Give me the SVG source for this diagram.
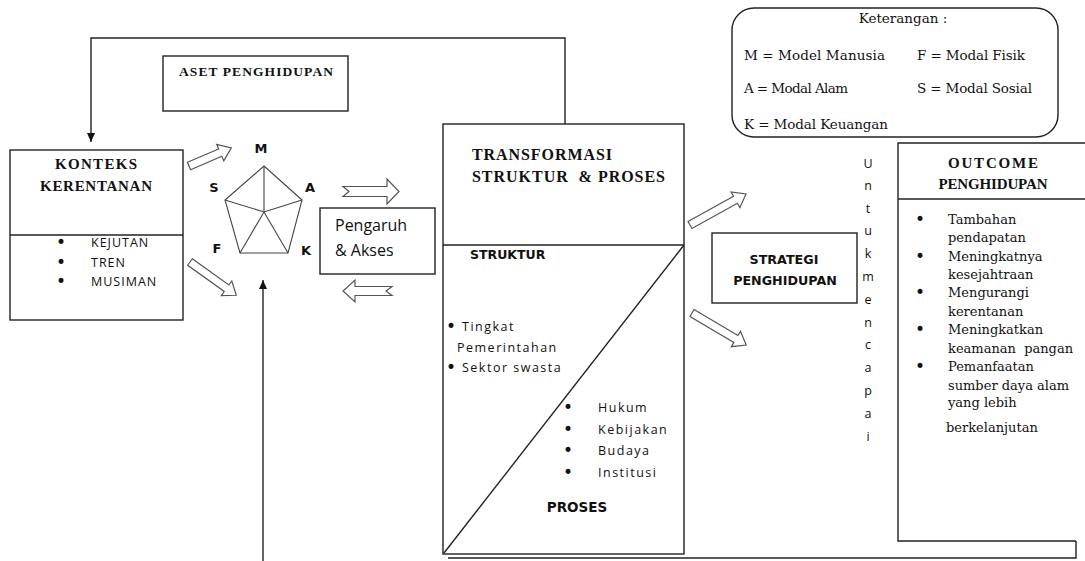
<svg xmlns="http://www.w3.org/2000/svg" width="1085" height="561" viewBox="0 0 1085 561">
<style>
.box{fill:#fff;stroke:#222;stroke-width:1.4}
.ln{fill:none;stroke:#222;stroke-width:1.4}
.pent{fill:none;stroke:#444;stroke-width:1.1}
.harr{fill:#fff;stroke:#555;stroke-width:1.2;stroke-linejoin:miter}
.serifb{font-family:"Liberation Serif","Times New Roman",serif;font-weight:bold;fill:#111}
.serif{font-family:"DejaVu Serif",serif;fill:#111}
.sans{font-family:"Open Sans","DejaVu Sans",sans-serif;fill:#111}
.sansb{font-family:"DejaVu Sans","Open Sans",sans-serif;font-weight:bold;fill:#111}
.bul{font-family:"DejaVu Sans",sans-serif;font-size:17px;fill:#111;letter-spacing:0}
</style>
<defs>
<marker id="ah" markerWidth="10" markerHeight="10" refX="9" refY="5" orient="auto" markerUnits="userSpaceOnUse">
<path d="M0,1 L9,5 L0,9 Z" fill="#111"/>
</marker>
</defs>
<rect width="1085" height="561" fill="#fff"/>

<g id="connectors">
<polyline class="ln" points="565,124 565,38 91,38 91,142" marker-end="url(#ah)"/>
<polyline class="ln" points="263,561 263,280" marker-end="url(#ah)"/>
<polyline class="ln" points="1076,541 1076,558 448,558"/>
<g transform="translate(189,166) rotate(-23.2)"><polygon class="harr" points="0,-4 34,-4 34,-9 46,0 34,9 34,4 0,4"/></g>
<g transform="translate(190,262) rotate(35.7)"><polygon class="harr" points="0,-4 45,-4 45,-9 57,0 45,9 45,4 0,4"/></g>
<polygon class="harr" points="343,186.5 387,186.5 387,179 399,191.5 387,204 387,196.5 343,196.5 349,191.5"/>
<polygon class="harr" points="392,286.5 355,286.5 355,280 343,291 355,302 355,295.5 392,295.5 386,291"/>
<g transform="translate(690,225) rotate(-29)"><polygon class="harr" points="0,-4 52,-4 52,-9 64,0 52,9 52,4 0,4"/></g>
<g transform="translate(692,313) rotate(30.6)"><polygon class="harr" points="0,-4 51,-4 51,-9 63,0 51,9 51,4 0,4"/></g>
</g>

<g id="aset">
<rect class="box" x="163" y="56" width="185" height="55"/>
<text class="serifb" x="256" y="76" font-size="13.5" text-anchor="middle" textLength="154">ASET PENGHIDUPAN</text>
</g>

<g id="konteks">
<rect class="box" x="10" y="150" width="173" height="170"/>
<line class="ln" x1="10" y1="235" x2="183" y2="235"/>
<text class="serifb" x="96" y="169" font-size="15" text-anchor="middle" textLength="82">KONTEKS</text>
<text class="serifb" x="96" y="191" font-size="15" text-anchor="middle" textLength="112">KERENTANAN</text>
<text class="bul" x="56" y="248">•</text>
<text class="bul" x="56" y="268">•</text>
<text class="bul" x="56" y="287">•</text>
<g class="sans" font-size="12.5" letter-spacing="1">
<text x="91" y="247">KEJUTAN</text>
<text x="91" y="267">TREN</text>
<text x="91" y="286">MUSIMAN</text>
</g>
</g>

<g id="aset-pentagon">
<polygon class="pent" points="264,166 302,200 288,253 240,253 225,200"/>
<polyline class="pent" points="264,166 264,212"/>
<polyline class="pent" points="225,200 264,212 302,200"/>
<polyline class="pent" points="240,253 264,212 288,253"/>
<g class="sansb" font-size="13">
<text x="261" y="153" text-anchor="middle">M</text>
<text x="214" y="192" text-anchor="middle">S</text>
<text x="310" y="192" text-anchor="middle">A</text>
<text x="217" y="253" text-anchor="middle">F</text>
<text x="306" y="255" text-anchor="middle">K</text>
</g>
</g>

<g id="pengaruh">
<rect class="box" x="320" y="208" width="115" height="66"/>
<text class="sans" x="335" y="231" font-size="16">Pengaruh</text>
<text class="sans" x="335" y="256" font-size="16">&amp; Akses</text>
</g>

<g id="transformasi">
<rect class="box" x="443" y="124" width="241" height="430"/>
<line class="ln" x1="443" y1="245" x2="684" y2="245"/>
<line class="ln" x1="684" y1="245" x2="444" y2="553" stroke-width="1.1"/>
<text class="serifb" x="472" y="160" font-size="16" textLength="140">TRANSFORMASI</text>
<text class="serifb" x="472" y="182" font-size="16" textLength="193" xml:space="preserve">STRUKTUR  &amp; PROSES</text>
<text class="sansb" x="470" y="259" font-size="12.5">STRUKTUR</text>
<text class="bul" x="446" y="332">•</text>
<text class="bul" x="446" y="373">•</text>
<text class="bul" x="563" y="413">•</text>
<text class="bul" x="563" y="434.5">•</text>
<text class="bul" x="563" y="456">•</text>
<text class="bul" x="563" y="477.5">•</text>
<g class="sans" font-size="12.5" letter-spacing="1.5">
<text x="462" y="331">Tingkat</text>
<text x="457" y="352">Pemerintahan</text>
<text x="462" y="372">Sektor swasta</text>
<text x="598" y="412">Hukum</text>
<text x="598" y="433.5">Kebijakan</text>
<text x="598" y="455">Budaya</text>
<text x="598" y="476.5">Institusi</text>
</g>
<text class="sansb" x="577" y="512" font-size="13.5" text-anchor="middle">PROSES</text>
</g>

<g id="strategi">
<rect class="box" x="712" y="233" width="145" height="70"/>
<text class="sansb" x="784" y="264" font-size="12.7" text-anchor="middle">STRATEGI</text>
<text class="sansb" x="785" y="285" font-size="12.7" text-anchor="middle">PENGHIDUPAN</text>
</g>

<g id="untuk-mencapai" class="sans" font-size="12.5" text-anchor="middle">
<text x="868" y="167.5">U</text>
<text x="868" y="190">n</text>
<text x="868" y="213">t</text>
<text x="868" y="235">u</text>
<text x="868" y="258">k</text>
<text x="868" y="281">m</text>
<text x="868" y="304">e</text>
<text x="868" y="327">n</text>
<text x="868" y="349">c</text>
<text x="868" y="372">a</text>
<text x="868" y="395">p</text>
<text x="868" y="418">a</text>
<text x="868" y="441">i</text>
</g>

<g id="outcome">
<rect x="898" y="143" width="190" height="398" fill="#fff"/>
<polyline class="ln" points="1085,143 898,143 898,541 1076,541"/>
<line class="ln" x1="898" y1="199" x2="1085" y2="199"/>
<text class="serifb" x="993" y="168" font-size="15" text-anchor="middle" textLength="90">OUTCOME</text>
<text class="serifb" x="993" y="189" font-size="15" text-anchor="middle" textLength="109">PENGHIDUPAN</text>
<text class="bul" x="915" y="225">•</text>
<text class="bul" x="915" y="262">•</text>
<text class="bul" x="915" y="298">•</text>
<text class="bul" x="915" y="335">•</text>
<text class="bul" x="915" y="372">•</text>
<g class="serif" font-size="13">
<text x="948" y="224">Tambahan</text>
<text x="948" y="242">pendapatan</text>
<text x="948" y="261">Meningkatnya</text>
<text x="948" y="279">kesejahtraan</text>
<text x="948" y="297">Mengurangi</text>
<text x="948" y="316">kerentanan</text>
<text x="948" y="334">Meningkatkan</text>
<text x="948" y="353" xml:space="preserve">keamanan  pangan</text>
<text x="948" y="371">Pemanfaatan</text>
<text x="948" y="390">sumber daya alam</text>
<text x="948" y="407">yang lebih</text>
<text x="946" y="432">berkelanjutan</text>
</g>
</g>

<g id="keterangan">
<rect class="box" x="732" y="8" width="326" height="129" rx="22" ry="22" stroke="#444"/>
<g class="serif" font-size="13.5">
<text x="903" y="23" text-anchor="middle">Keterangan :</text>
<text x="744" y="60" textLength="141">M = Model Manusia</text>
<text x="917" y="60" textLength="108">F = Modal Fisik</text>
<text x="744" y="93" textLength="104">A = Modal Alam</text>
<text x="917" y="93" textLength="115">S = Modal Sosial</text>
<text x="744" y="129" textLength="144">K = Modal Keuangan</text>
</g>
</g>
</svg>
